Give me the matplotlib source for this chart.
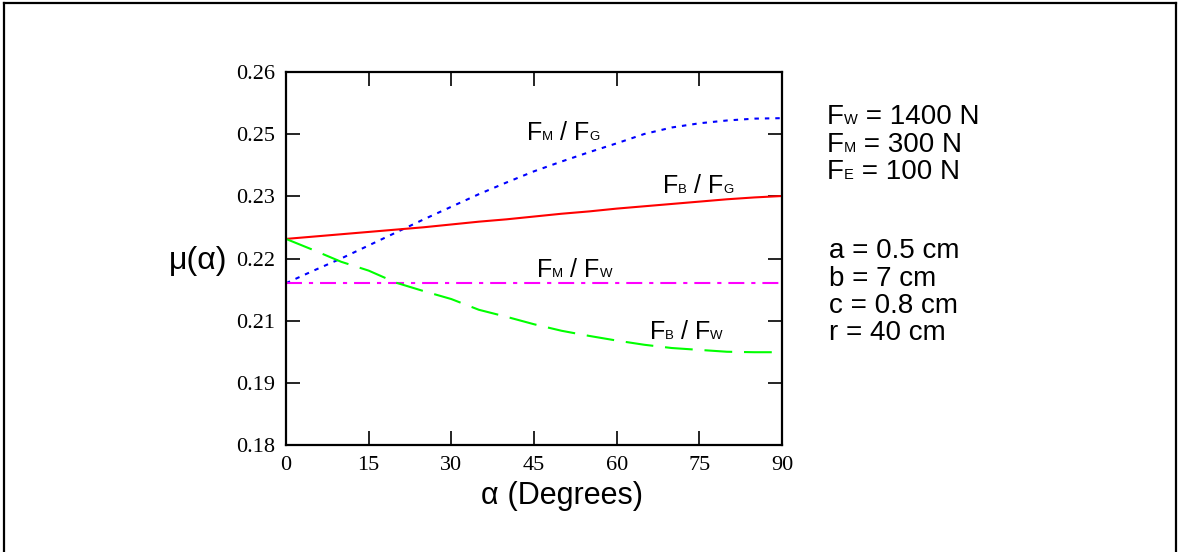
import numpy as np
import matplotlib
matplotlib.use("Agg")
import matplotlib.pyplot as plt
from matplotlib.lines import Line2D
from matplotlib.transforms import IdentityTransform

plt.rcParams['lines.scale_dashes'] = False

# ---------------- data ----------------
alpha = [0, 5, 10, 15, 20, 25, 30, 35, 40, 45, 50, 55, 60, 65, 70, 75, 80, 85, 90]
fm_fg = [0.2147, 0.2174, 0.2200, 0.2228, 0.2256, 0.2284, 0.2311, 0.2338, 0.2363,
         0.2387, 0.2408, 0.2428, 0.2447, 0.2467, 0.2481, 0.2490, 0.2496, 0.2500, 0.2501]
fb_fg = [0.2242, 0.2247, 0.2252, 0.2257, 0.2262, 0.2267, 0.2273, 0.2279, 0.2284,
         0.2290, 0.2296, 0.2301, 0.2307, 0.2312, 0.2317, 0.2322, 0.2327, 0.2331, 0.2334]
fm_fw = [0.2147] * len(alpha)
fb_fw = [0.2242, 0.2218, 0.2193, 0.2174, 0.2148, 0.2130, 0.2113, 0.2090, 0.2075,
         0.2059, 0.2045, 0.2034, 0.2024, 0.2015, 0.2008, 0.2004, 0.2000, 0.1999, 0.1999]

x_ticks = [0, 15, 30, 45, 60, 75, 90]
y_ticks = list(np.linspace(0.18, 0.26, 7))
y_tick_labels = ["%.2f" % v for v in y_ticks]

params_force = [("F", "W", " = 1400 N"), ("F", "M", " = 300 N"), ("F", "E", " = 100 N")]
params_geom = ["a = 0.5 cm", "b = 7 cm", "c = 0.8 cm", "r = 40 cm"]

# ---------------- figure ----------------
W, H = 1180, 552
fig = plt.figure(figsize=(W / 100, H / 100), dpi=100)
fig.patch.set_facecolor("white")

ax = fig.add_axes([286 / W, 1 - 445 / H, (782 - 286) / W, (445 - 72) / H])

ax.plot(alpha, fm_fg, color="#0000ff", lw=1.5, linestyle=(0, (3.2, 4.3)))
ax.plot(alpha, fb_fg, color="#ff0000", lw=1.5, linestyle="-")
ax.plot(alpha, fm_fw, color="#ff00ff", lw=1.5, linestyle=(0, (11.5, 5, 3, 5)))
ax.plot(alpha, fb_fw, color="#00ff00", lw=1.5, linestyle=(0, (20, 8.5)))

ax.set_xlim(0, 90)
ax.set_ylim(0.18, 0.26)
ax.set_xticks(x_ticks)
ax.set_xticklabels([str(v) for v in x_ticks])
ax.set_yticks(y_ticks)
ax.set_yticklabels(y_tick_labels)
for s in ax.spines.values():
    s.set_linewidth(1.6)
ax.tick_params(direction="in", length=10, width=1.2, top=True, right=True,
               labelsize=16, pad=8)
for lab in ax.get_xticklabels() + ax.get_yticklabels():
    lab.set_fontfamily("Liberation Serif")
ax.tick_params(axis="x", pad=8)

SANS = "Liberation Sans"
renderer = fig.canvas.get_renderer()
ident = IdentityTransform()


def rich(x, ybase, pieces):
    """pieces: list of (text, size); x,y in image pixel coords (y from top)."""
    cx = x
    for txt, size in pieces:
        t = fig.text(cx, H - ybase, txt, transform=ident, fontsize=size,
                     fontfamily=SANS, va="baseline", ha="left")
        bb = t.get_window_extent(renderer=renderer)
        cx += bb.width


main, sub = 18, 9.5
rich(527, 140, [("F", main), ("M", sub), (" / F", main), ("G", sub)])
rich(663, 193, [("F", main), ("B", sub), (" / F", main), ("G", sub)])
rich(537, 277, [("F", main), ("M", sub), (" / F", main), ("W", sub)])
rich(650, 339, [("F", main), ("B", sub), (" / F", main), ("W", sub)])

big, bsub = 20, 10.5
for i, (a, b, c) in enumerate(params_force):
    rich(827, 124 + 27.6 * i, [(a, big), (b, bsub), (c, big)])
for i, s in enumerate(params_geom):
    rich(829, 258 + 27.5 * i, [(s, big)])

rich(169, 269, [("\u03bc(\u03b1)", 23)])
rich(481, 504, [("\u03b1", 22), (" (Degrees)", 22)])

# figure frame
for (x0, y0, x1, y1) in [(4, 3, 1176, 3), (4, 3, 4, 552), (1176, 3, 1176, 552)]:
    fig.add_artist(Line2D([x0, x1], [H - y0, H - y1], transform=ident,
                          color="black", lw=1.6))

fig.savefig("out.png", dpi=100)
